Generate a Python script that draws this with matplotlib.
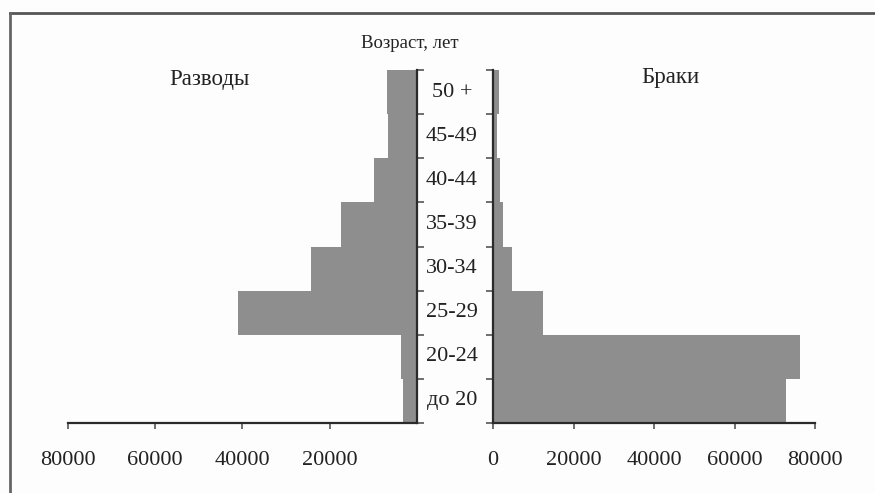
import matplotlib
matplotlib.use("Agg")
import matplotlib.pyplot as plt
from matplotlib.lines import Line2D
from matplotlib.transforms import blended_transform_factory

# Возрастной состав: разводы и браки
vozrast = ["до 20", "20-24", "25-29", "30-34", "35-39", "40-44", "45-49", "50 +"]
razvody = [3300, 3600, 41000, 24300, 17400, 9900, 6600, 6900]
braki = [72800, 76300, 12300, 4700, 2500, 1700, 1000, 1500]

tiki_lev = [80000, 60000, 40000, 20000]
tiki_prav = [0, 20000, 40000, 60000, 80000]

plt.rcParams['font.family'] = ['Liberation Serif', 'DejaVu Serif']
tekst = '#222222'
seryj = '#8e8e8e'

W, H = 875, 493
fig = plt.figure(figsize=(W / 100, H / 100), dpi=100, facecolor='#fdfdfd')

niz = 1 - 423 / H
vys = (423 - 70) / H
axL = fig.add_axes([68 / W, niz, (417 - 68) / W, vys])
axR = fig.add_axes([493 / W, niz, (815 - 493) / W, vys])

y = range(len(vozrast))
granicy = [i - 0.5 for i in range(len(vozrast) + 1)]

# разводы - влево
axL.barh(y, razvody, height=1.0, color=seryj, linewidth=0)
axL.set_xlim(80000, 0)
axL.set_ylim(-0.5, len(vozrast) - 0.5)
axL.spines[['top', 'left']].set_visible(False)
axL.set_xticks(tiki_lev)
axL.set_xticklabels([str(t) for t in tiki_lev])
axL.yaxis.tick_right()
axL.set_yticks(granicy)
axL.set_yticklabels([])

# браки - вправо
axR.barh(y, braki, height=1.0, color=seryj, linewidth=0)
axR.set_xlim(0, 80000)
axR.set_ylim(-0.5, len(vozrast) - 0.5)
axR.spines[['top', 'right']].set_visible(False)
axR.set_xticks(tiki_prav)
axR.set_xticklabels([str(t) for t in tiki_prav])
axR.set_yticks(granicy)
axR.set_yticklabels([])

for ax in (axL, axR):
    ax.set_facecolor('none')
    for s in ax.spines.values():
        s.set_color('#2a2a2a')
        s.set_linewidth(1.6)
    ax.tick_params(axis='x', length=4, width=1.2, color='#555555',
                   labelsize=16, labelcolor=tekst, pad=16)
    ax.tick_params(axis='y', length=5, width=1.2, color='#555555')

# подписи возрастных групп между осями
tr = blended_transform_factory(fig.transFigure, axL.transData)
for i, v in enumerate(vozrast):
    axL.text(452 / W, i, v, transform=tr, ha='center', va='center',
             fontsize=16, color=tekst)

fig.text(410 / W, 1 - 43 / H, 'Возраст, лет', ha='center', va='center',
         fontsize=13.5, color=tekst)
fig.text(209 / W, 1 - 79 / H, 'Разводы', ha='center', va='center',
         fontsize=16.5, color=tekst)
fig.text(670 / W, 1 - 77 / H, 'Браки', ha='center', va='center',
         fontsize=16.5, color=tekst)

# рамка от скана
fig.add_artist(Line2D([10 / W, 1], [1 - 13 / H, 1 - 13 / H],
                      transform=fig.transFigure, color='#555555', lw=2))
fig.add_artist(Line2D([10 / W, 10 / W], [0, 1 - 13 / H],
                      transform=fig.transFigure, color='#666666', lw=2))

fig.savefig('out.png', dpi=100, facecolor=fig.get_facecolor())
